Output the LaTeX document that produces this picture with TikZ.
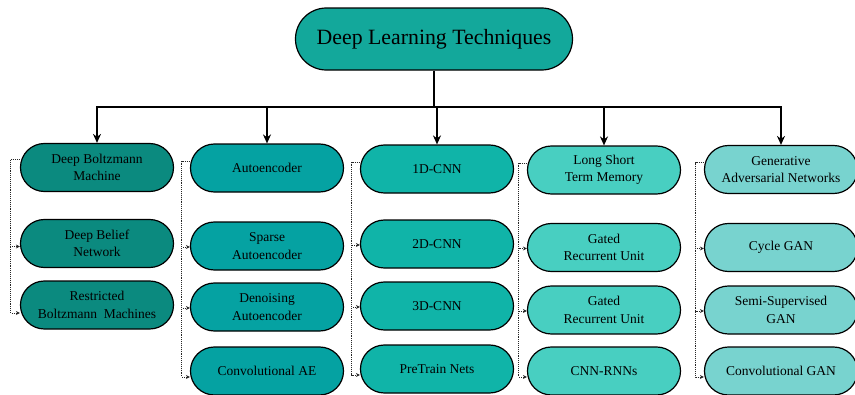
\documentclass[tikz,border=0pt]{standalone}
\usepackage{fontspec}
\setmainfont{Liberation Serif}
\usetikzlibrary{arrows.meta}
\definecolor{ctop}{HTML}{13A89B}
\definecolor{cA}{HTML}{0B8A7F}
\definecolor{cB}{HTML}{05A2A2}
\definecolor{cC}{HTML}{10B4A8}
\definecolor{cD}{HTML}{48CFC1}
\definecolor{cE}{HTML}{78D3CF}
\begin{document}
\begin{tikzpicture}[x=1pt,y=-1pt,
  box/.style={draw=black, line width=1.2pt, rounded corners=23.9pt,
    minimum width=153pt, minimum height=48pt, inner sep=0pt, align=center,
    font=\fontsize{13.5}{17.3}\selectfont},
  topbox/.style={draw=black, line width=1.2pt, rounded corners=30.9pt, fill=ctop,
    minimum width=277pt, minimum height=62pt, inner sep=0pt,
    font=\fontsize{21.8}{26}\selectfont},
  arr/.style={line width=2pt, -{Stealth[length=9pt,width=8pt]}},
  dotarr/.style={densely dotted, line width=0.9pt, draw=black!85,
    -{Stealth[length=4pt,width=4pt]}}]
\useasboundingbox (0,0) rectangle (855,394);
\clip (0,0) rectangle (855,394);

\node[topbox] (top) at (434,39) {Deep Learning Techniques};
\coordinate (bar) at (434,107);

% column 1
\node[box, fill=cA] (a1) at (97,167.5) {Deep Boltzmann\\Machine};
\node[box, fill=cA] (a2) at (97,243.5) {Deep Belief\\Network};
\node[box, fill=cA] (a3) at (97,305) {Restricted\\Boltzmann\ \ Machines};
% column 2
\node[box, fill=cB] (b1) at (267,168) {Autoencoder};
\node[box, fill=cB] (b2) at (267,246) {Sparse\\Autoencoder};
\node[box, fill=cB] (b3) at (267,307) {Denoising\\Autoencoder};
\node[box, fill=cB] (b4) at (267,371) {Convolutional AE};
% column 3
\node[box, fill=cC] (c1) at (437,169) {1D-CNN};
\node[box, fill=cC] (c2) at (437,244) {2D-CNN};
\node[box, fill=cC] (c3) at (437,306) {3D-CNN};
\node[box, fill=cC] (c4) at (437,369) {PreTrain Nets};
% column 4
\node[box, fill=cD] (d1) at (604,170) {Long Short\\Term Memory};
\node[box, fill=cD] (d2) at (604,247.5) {Gated\\Recurrent Unit};
\node[box, fill=cD] (d3) at (604,310) {Gated\\Recurrent Unit};
\node[box, fill=cD] (d4) at (604,371) {CNN-RNNs};
% column 5
\node[box, fill=cE] (e1) at (781,169.5) {Generative\\Adversarial Networks};
\node[box, fill=cE] (e2) at (781,247.5) {Cycle GAN};
\node[box, fill=cE] (e3) at (781,310) {Semi-Supervised\\GAN};
\node[box, fill=cE] (e4) at (781,371) {Convolutional GAN};

% main tree
\draw[line width=2pt] (top.south) -- (bar);
\foreach \n in {a1,b1,c1,d1,e1}
  \draw[arr] (bar) -| (\n.north);

% dotted sub-links
\draw[dotarr] ([yshift=8pt]a1.west) -- ++(-9,0) |- ([yshift=-3pt]a2.west);
\draw[dotarr] ([yshift=8pt]a1.west) -- ++(-9,0) |- ([yshift=-8pt]a3.west);
\foreach \p in {b,c,d,e}{
  \draw[dotarr] ([yshift=7pt]\p1.west) -- ++(-8,0) |- ([yshift=-1pt]\p2.west);
  \draw[dotarr] ([yshift=7pt]\p1.west) -- ++(-8,0) |- ([yshift=-1pt]\p3.west);
  \draw[dotarr] ([yshift=7pt]\p1.west) -- ++(-8,0) |- ([yshift=-6pt]\p4.west);
}
\end{tikzpicture}
\end{document}
